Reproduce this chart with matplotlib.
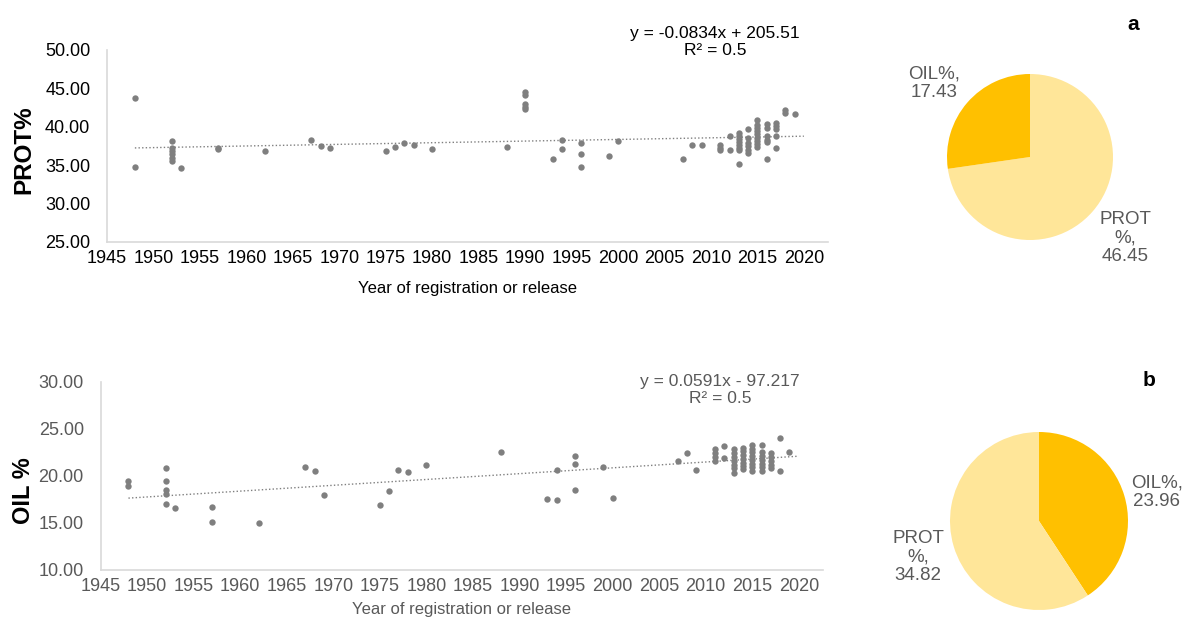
import numpy as np
import matplotlib
matplotlib.use("Agg")
import matplotlib.pyplot as plt

plt.rcParams["font.family"] = ["Liberation Sans", "DejaVu Sans"]

# protein content by year of registration (panel a, scatter)
prot_years = [1948, 1948,
              1952, 1952, 1952, 1952, 1952, 1952, 1953, 1957, 1957, 1962,
              1967, 1968, 1969, 1975, 1976, 1977, 1978, 1980, 1988,
              1990, 1990, 1990, 1990, 1990, 1993, 1994, 1994, 1996, 1996, 1996,
              1999, 2000, 2007, 2008, 2009, 2011, 2011, 2011, 2012, 2012,
              2013, 2013, 2013, 2013, 2013, 2013, 2013, 2013,
              2014, 2014, 2014, 2014, 2014, 2014,
              2015, 2015, 2015, 2015, 2015, 2015, 2015, 2015, 2015,
              2016, 2016, 2016, 2016, 2016, 2016,
              2017, 2017, 2017, 2017, 2017, 2018, 2018, 2019]
prot_vals = [43.8, 34.8,
             38.1, 37.2, 36.8, 36.5, 35.9, 35.6, 34.7, 37.1, 37.3, 36.8,
             38.3, 37.5, 37.2, 36.85, 37.4, 37.9, 37.6, 37.1, 37.4,
             44.5, 44.1, 43.0, 42.6, 42.3, 35.85, 38.3, 37.1, 37.85, 36.4, 34.8,
             36.2, 38.2, 35.75, 37.6, 37.6, 37.6, 37.3, 37.0, 38.85, 37.0,
             39.2, 38.8, 38.4, 38.0, 37.6, 37.3, 37.0, 35.1,
             39.7, 38.6, 37.9, 37.5, 37.0, 36.6,
             40.9, 40.2, 39.8, 39.4, 39.0, 38.6, 38.2, 37.8, 37.4,
             40.4, 39.9, 38.8, 38.3, 38.0, 35.8,
             40.5, 40.1, 39.7, 38.8, 37.3, 42.2, 41.8, 41.7]

# oil content by year of registration (panel b, scatter)
oil_years = [1948, 1948, 1952, 1952, 1952, 1952, 1952, 1953, 1957, 1957, 1962,
             1967, 1968, 1969, 1975, 1976, 1977, 1978, 1980, 1988,
             1993, 1994, 1994, 1996, 1996, 1996, 1999, 2000, 2007, 2008, 2009,
             2011, 2011, 2011, 2011, 2012, 2012,
             2013, 2013, 2013, 2013, 2013, 2013, 2013,
             2014, 2014, 2014, 2014, 2014, 2014, 2014,
             2015, 2015, 2015, 2015, 2015, 2015, 2015, 2015,
             2016, 2016, 2016, 2016, 2016, 2016, 2016,
             2017, 2017, 2017, 2017, 2017, 2018, 2018, 2019]
oil_vals = [19.44, 18.9, 20.85, 19.4, 18.5, 18.1, 17.0, 16.56, 16.7, 15.15, 15.04,
            20.9, 20.5, 18.0, 16.95, 18.34, 20.6, 20.4, 21.14, 22.55,
            17.49, 17.4, 20.57, 22.13, 21.3, 18.45, 20.93, 17.66, 21.6, 22.38, 20.64,
            22.9, 22.4, 22.0, 21.6, 23.2, 21.9,
            22.8, 22.4, 22.0, 21.6, 21.2, 20.8, 20.3,
            23.0, 22.6, 22.2, 21.8, 21.4, 21.0, 20.7,
            23.3, 22.9, 22.5, 22.1, 21.7, 21.3, 20.9, 20.5,
            23.3, 22.5, 22.1, 21.7, 21.3, 20.9, 20.5,
            22.4, 22.0, 21.6, 21.2, 20.8, 24.0, 20.5, 22.5]

# pie charts: mean composition
pie_a_labels = ["PROT\n%", "OIL%"]
pie_a_vals = [46.45, 17.43]
pie_b_labels = ["OIL%", "PROT\n%"]
pie_b_vals = [23.96, 34.82]

eq_a = "y = -0.0834x + 205.51\nR\u00b2 = 0.5"
eq_b = "y = 0.0591x - 97.217\nR\u00b2 = 0.5"
year_ticks = list(range(1945, 2021, 5))

DOT = "#7F7F7F"
GREY_TXT = "#595959"
DARK = "#FFC000"
LIGHT = "#FFE699"

fig = plt.figure(figsize=(11.83, 6.21), dpi=100)
W, H = 1183, 621


def px_axes(x0, y0, x1, y1):
    """axes from pixel box (top-left origin)"""
    return fig.add_axes([x0 / W, 1 - y1 / H, (x1 - x0) / W, (y1 - y0) / H])


def scatter_panel(ax, years, vals, ylim, yticks, txt_color, eq, eq_xy, xpad):
    years = np.array(years, dtype=float)
    vals = np.array(vals, dtype=float)
    ax.scatter(years, vals, s=21, color=DOT, linewidths=0, zorder=3)
    # linear trend
    k, b = np.polyfit(years, vals, 1)
    xs = np.array([years.min(), years.max() + 1])
    ax.plot(xs, k * xs + b, color=DOT, lw=1, linestyle=(0, (1, 1.6)), zorder=2)

    ax.set_xlim(1945, 2022.6)
    ax.set_ylim(*ylim)
    ax.set_xticks(year_ticks)
    ax.set_yticks(yticks)
    ax.set_yticklabels([f"{t:.2f}" for t in yticks])
    ax.tick_params(length=0, labelsize=13, colors=txt_color)
    ax.tick_params(axis="y", pad=12)
    ax.tick_params(axis="x", pad=6)
    for s in ["top", "right"]:
        ax.spines[s].set_visible(False)
    for s in ["left", "bottom"]:
        ax.spines[s].set_color("#D9D9D9")
        ax.spines[s].set_linewidth(1.2)
    ax.set_xlabel("Year of registration or release", fontsize=12,
                  color=txt_color, labelpad=xpad)
    fig.text(eq_xy[0] / W, 1 - eq_xy[1] / H, eq, ha="center", va="center",
             fontsize=12.5, color=txt_color, linespacing=1.15)
    return ax


ax1 = px_axes(107, 50, 828, 242)
scatter_panel(ax1, prot_years, prot_vals, (25, 50), [25, 30, 35, 40, 45, 50],
              "#000000", eq_a, (715, 42), 10)
fig.text(24 / W, 1 - 150 / H, "PROT%", rotation=90, ha="center", va="center",
         fontsize=17.5, fontweight="bold")

ax2 = px_axes(100.5, 381.7, 823, 570)
scatter_panel(ax2, oil_years, oil_vals, (10, 30), [10, 15, 20, 25, 30],
              GREY_TXT, eq_b, (720, 390), 5)
fig.text(23 / W, 1 - 491 / H, "OIL %", rotation=90, ha="center", va="center",
         fontsize=17, fontweight="bold")


def pie_panel(box, vals, colors):
    ax = px_axes(*box)
    ax.pie(vals, colors=colors, startangle=90, counterclock=False,
           wedgeprops=dict(linewidth=0))
    ax.set_xlim(-1, 1)
    ax.set_ylim(-1, 1)
    ax.set_aspect("auto")
    ax.axis("off")
    return ax


pie_panel((947, 74, 1113, 240), pie_a_vals, [LIGHT, DARK])
pie_panel((950, 432, 1128, 610), pie_b_vals, [DARK, LIGHT])

# data labels of the pies
label_pos_a = [(1125, 238), (934, 83)]
label_pos_b = [(1157, 492), (918, 557)]
for labels, vals, pos in [(pie_a_labels, pie_a_vals, label_pos_a),
                          (pie_b_labels, pie_b_vals, label_pos_b)]:
    for lab, v, (x, y) in zip(labels, vals, pos):
        fig.text(x / W, 1 - y / H, f"{lab},\n{v:.2f}", ha="center", va="center",
                 fontsize=13.5, color=GREY_TXT, linespacing=1.1)

fig.text(1133 / W, 1 - 24 / H, "a", ha="center", va="center", fontsize=15,
         fontweight="bold")
fig.text(1149 / W, 1 - 380 / H, "b", ha="center", va="center", fontsize=15,
         fontweight="bold")

fig.savefig("out.png", dpi=100)
